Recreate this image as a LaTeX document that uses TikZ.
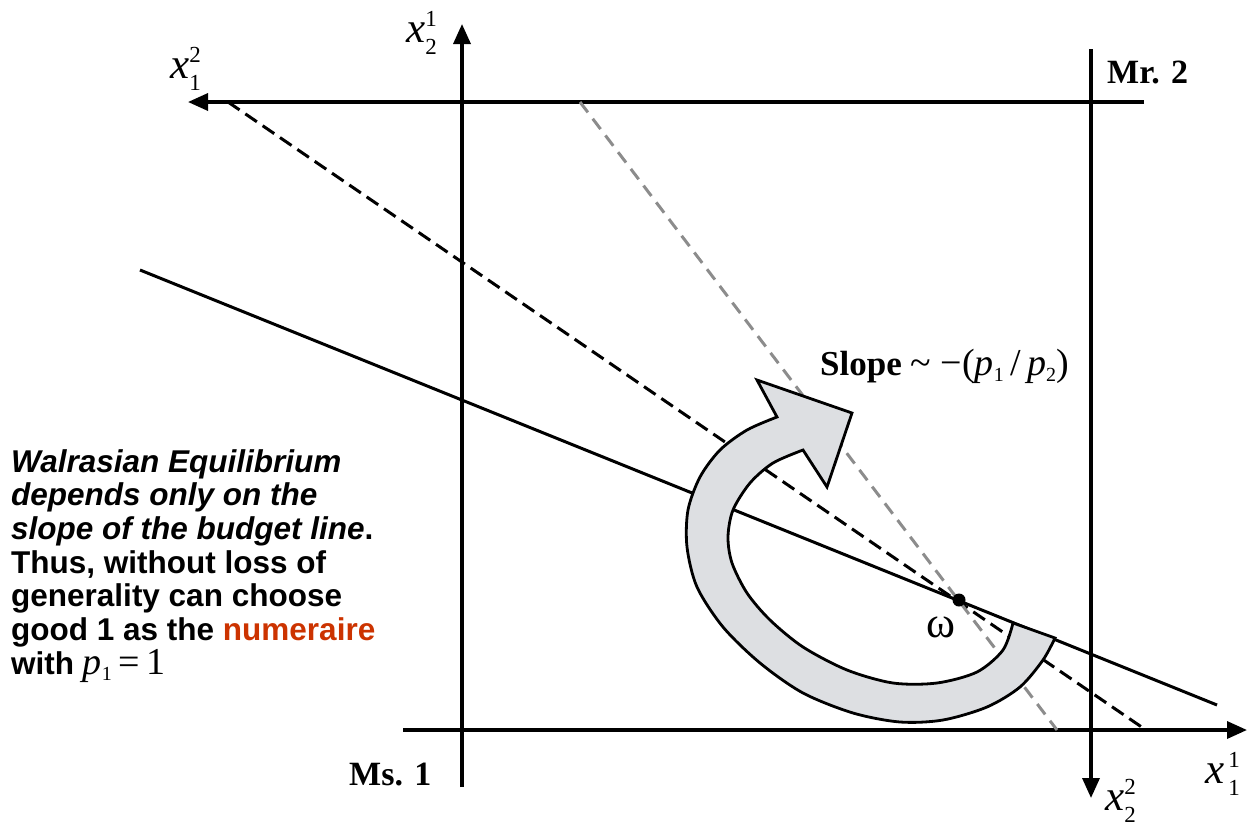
\documentclass[tikz,border=0pt]{standalone}
\usepackage{fontspec}
\setmainfont{Liberation Serif}
\newfontfamily\arialfont{Liberation Sans}
\usetikzlibrary{arrows.meta}
\definecolor{arrowfill}{RGB}{221,223,226}
\definecolor{pricegray}{RGB}{140,140,140}
\definecolor{numcolor}{RGB}{204,51,0}
\newcommand{\subsup}[3]{{\itshape #1}{\fontsize{23}{23}\selectfont\raisebox{-12pt}{#2}\llap{\raisebox{16pt}{#3}}}}
\newcommand{\subonly}[2]{{\itshape #1}{\fontsize{20}{20}\selectfont\raisebox{-6pt}{#2}}}
\tikzset{
  axis/.style={line width=3.4pt, -{Triangle[length=20pt,width=17pt]}},
  budget/.style={line width=3pt},
  lbl/.style={font=\fontsize{43}{43}\selectfont, inner sep=0pt, anchor=base west},
  owner/.style={font=\bfseries\fontsize{34}{34}\selectfont, inner sep=0pt, anchor=base west},
}

\begin{document}
\begin{tikzpicture}[x=1pt, y=-1pt]
\useasboundingbox (0,0) rectangle (1248,825);
\coordinate (w) at (959,600);
\coordinate (o1b) at (462,787);
\coordinate (o1t) at (462,24);
\coordinate (o1l) at (403,730);
\coordinate (o1r) at (1247,730);
\coordinate (o2t) at (1091,49);
\coordinate (o2b) at (1091,798);
\coordinate (o2r) at (1144,102);
\coordinate (o2l) at (188,102);
\coordinate (s1) at (140,270);
\coordinate (s2) at (1217,705);
\coordinate (d1) at (228,102);
\coordinate (d2) at (1146,730);
\coordinate (g1) at (580,102);
\coordinate (g2) at (1057,730);

\draw[axis] (o1b) -- (o1t);
\draw[axis] (o1l) -- (o1r);
\draw[axis] (o2t) -- (o2b);
\draw[axis] (o2r) -- (o2l);

\draw[budget] (s1) -- (s2);
\draw[budget, dash pattern=on 14pt off 7pt] (d1) -- (d2);
\draw[budget, pricegray, dash pattern=on 13pt off 8pt] (g1) -- (g2);

\filldraw[fill=arrowfill, line width=2.8pt, line join=miter]
  plot[smooth] coordinates {(1055,638) (1043,660) (1020,687) (987,707) (943,720) (900,722) (853,713) (803,693) (760,663) (723,627) (697,587) (687,547) (688,510) (700,477) (720,450) (747,430) (777,417)}
  -- (757,380) -- (852,413) -- (827,487) --
  plot[smooth] coordinates {(803,450) (773,463) (750,483) (733,510) (728,537) (732,563) (747,593) (770,620) (803,647) (847,670) (893,683) (937,683) (977,672) (1003,650) (1013,623)}
  -- cycle;

\fill (w) circle (6.5);
\node[font=\fontsize{44}{44}\selectfont, inner sep=0pt] (omega) at (941,627) {ω};

\node[lbl] (x21) at (406,42) {\subsup{x}{2}{1}};
\node[lbl] (x12) at (170,78) {\subsup{x}{1}{\kern3pt2}};
\node[lbl] (x11) at (1205,783) {\subsup{x}{\kern4pt1}{1}};
\node[lbl] (x22) at (1105,810) {\subsup{x}{2}{2}};
\node[owner] (mr2) at (1107,83) {Mr. 2};
\node[owner] (ms1) at (349,785) {Ms. 1};
\node[inner sep=0pt, anchor=base west, font=\fontsize{35}{35}\selectfont] (slope) at (820,375) {\textbf{Slope} {\fontsize{38}{38}\selectfont\textasciitilde\ −(\subonly{p}{1}\,/\,\subonly{p}{2})}};

\node[anchor=north west, align=left, inner sep=0pt, font=\arialfont\bfseries\fontsize{31.5}{33.7}\selectfont] (note) at (11,449)
  {\textit{Walrasian Equilibrium}\\ \textit{depends only on the}\\ \textit{slope of the budget line}.\\ Thus, without loss of\\ generality can choose\\ good 1 as the \textcolor{numcolor}{numeraire}\\ with {\rmfamily\mdseries\fontsize{38}{38}\selectfont\subonly{p}{1}\,=\,1}};
\end{tikzpicture}
\end{document}
